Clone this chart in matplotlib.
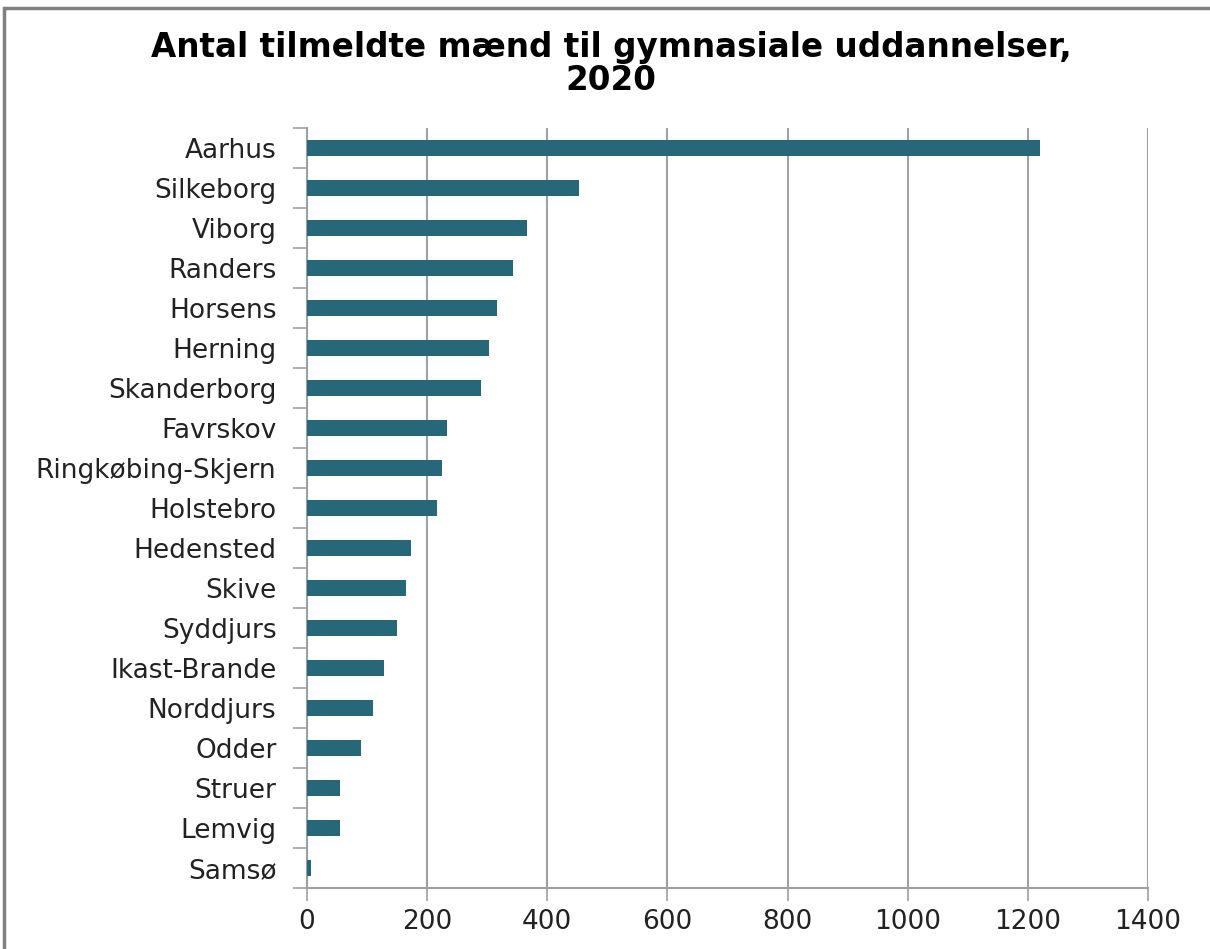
import matplotlib
matplotlib.use("Agg")
import matplotlib.pyplot as plt
from matplotlib.patches import Rectangle

# Data
kommuner = ["Aarhus", "Silkeborg", "Viborg", "Randers", "Horsens", "Herning",
            "Skanderborg", "Favrskov", "Ringkøbing-Skjern", "Holstebro",
            "Hedensted", "Skive", "Syddjurs", "Ikast-Brande", "Norddjurs",
            "Odder", "Struer", "Lemvig", "Samsø"]
antal = [1220, 453, 366, 343, 316, 303, 290, 233, 225, 216,
         173, 165, 150, 128, 110, 90, 55, 55, 7]
xticks = [0, 200, 400, 600, 800, 1000, 1200, 1400]

BAR_COLOR = "#26677A"
GRID_COLOR = "#A0A0A0"

fig = plt.figure(figsize=(12.1, 9.49), dpi=100)
ax = fig.add_axes([307 / 1210, 1 - 888 / 949, (1148 - 307) / 1210, (888 - 128) / 949])

pos = list(range(len(kommuner)))[::-1]
ax.barh(pos, antal, height=0.4, color=BAR_COLOR, zorder=3)

ax.set_xlim(0, 1400)
ax.set_ylim(-0.5, len(kommuner) - 0.5)
ax.set_xticks(xticks)
ax.set_xticklabels([str(t) for t in xticks], fontsize=19, color="#222222")
ax.set_yticks(pos)
ax.set_yticklabels(kommuner, fontsize=19, color="#222222")
ax.set_yticks([p - 0.5 for p in range(len(kommuner) + 1)], minor=True)

ax.grid(axis="x", color=GRID_COLOR, linewidth=1.5, zorder=0)
ax.tick_params(axis="y", which="major", length=0, pad=22)
ax.tick_params(axis="y", which="minor", length=10, color=GRID_COLOR, width=1.2)
ax.tick_params(axis="x", length=9, color=GRID_COLOR, width=1.2, pad=6)

for side in ["top", "right"]:
    ax.spines[side].set_visible(False)
ax.spines["left"].set_color(GRID_COLOR)
ax.spines["bottom"].set_color(GRID_COLOR)
ax.spines["left"].set_linewidth(1.5)
ax.spines["bottom"].set_linewidth(1.5)

fig.text(0.505, 1 - 64 / 949, "Antal tilmeldte mænd til gymnasiale uddannelser,\n2020",
         ha="center", va="center", fontsize=23.5, fontweight="bold", linespacing=1.0)

# Outer chart frame
fig.patches.append(Rectangle((4 / 1210, -0.05), 1.2, 1 - 8 / 949 + 0.05,
                             transform=fig.transFigure, fill=False,
                             edgecolor="#808080", linewidth=2.5))

fig.savefig("out.png", dpi=100)
